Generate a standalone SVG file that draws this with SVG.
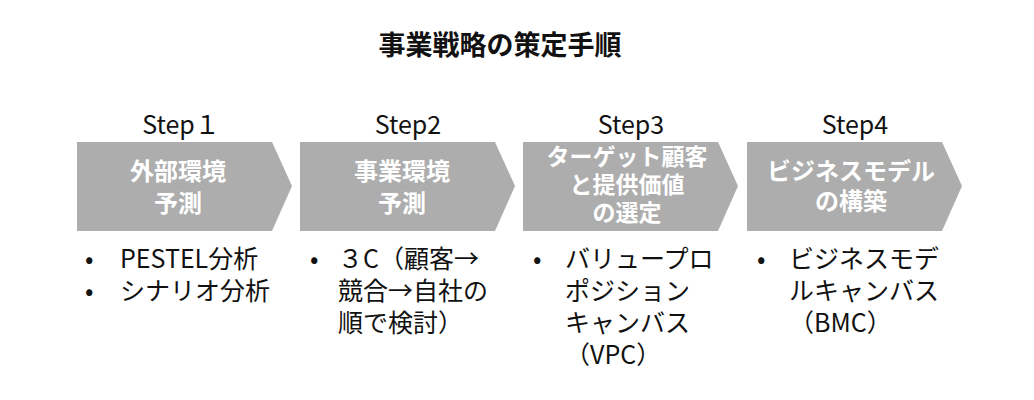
<svg xmlns="http://www.w3.org/2000/svg" width="1034" height="400" viewBox="0 0 1034 400">
<style>
text{font-family:"Noto Sans CJK JP","Noto Sans",sans-serif;fill:#111}
.t{font-size:27px;font-weight:bold;text-anchor:middle}
.s{font-size:25px;text-anchor:middle}
.b{font-size:24px;font-weight:bold;fill:#fff;text-anchor:middle}
.b3{font-size:23px}
.l{font-size:25px}
.a{fill:#adadad}
</style>
<rect width="1034" height="400" fill="#fff"/>
<text class="t" x="500" y="55">事業戦略の策定手順</text>
<g id="step1">
<text class="s" x="181" y="134">Step１</text>
<polygon class="a" points="77,142 272,142 292,186 272,231 77,231"/>
<text class="b" x="178" y="180">外部環境</text>
<text class="b" x="178" y="212">予測</text>
<text class="l" x="85" y="268">•</text><text class="l" x="120" y="268">PESTEL分析</text>
<text class="l" x="85" y="300">•</text><text class="l" x="120" y="300">シナリオ分析</text>
</g>
<g id="step2">
<text class="s" x="408" y="134">Step2</text>
<polygon class="a" points="300,142 495,142 515,186 495,231 300,231"/>
<text class="b" x="402" y="180">事業環境</text>
<text class="b" x="402" y="212">予測</text>
<text class="l" x="310" y="268">•</text><text class="l" x="338" y="268">３C（顧客→</text>
<text class="l" x="338" y="300">競合→自社の</text>
<text class="l" x="338" y="332">順で検討）</text>
</g>
<g id="step3">
<text class="s" x="631" y="134">Step3</text>
<polygon class="a" points="523,142 718,142 738,186 718,231 523,231"/>
<text class="b b3" x="627" y="165">ターゲット顧客</text>
<text class="b b3" x="627" y="193">と提供価値</text>
<text class="b b3" x="627" y="221">の選定</text>
<text class="l" x="533" y="268">•</text><text class="l" x="565" y="268">バリュープロ</text>
<text class="l" x="565" y="300">ポジション</text>
<text class="l" x="565" y="332">キャンバス</text>
<text class="l" x="565" y="364">（VPC）</text>
</g>
<g id="step4">
<text class="s" x="855" y="134">Step4</text>
<polygon class="a" points="747,142 942,142 962,186 942,231 747,231"/>
<text class="b" x="851" y="180">ビジネスモデル</text>
<text class="b" x="851" y="210">の構築</text>
<text class="l" x="757" y="268">•</text><text class="l" x="789" y="268">ビジネスモデ</text>
<text class="l" x="789" y="300">ルキャンバス</text>
<text class="l" x="789" y="332">（BMC）</text>
</g>
<g id="connectors"></g>
</svg>
